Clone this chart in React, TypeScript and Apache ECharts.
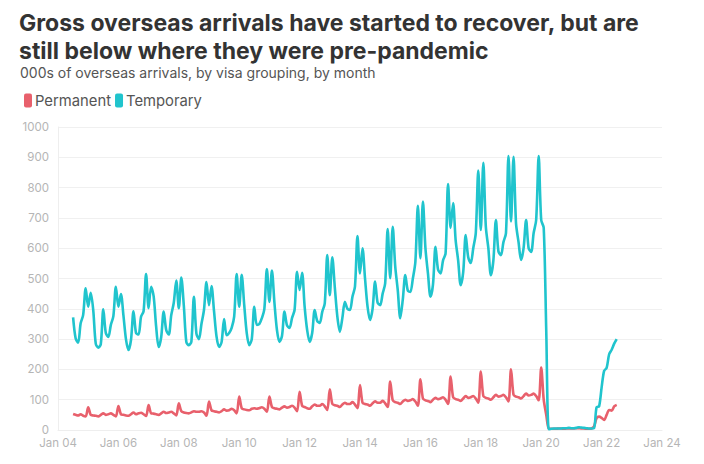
import React, { useEffect, useRef } from "react";
import * as echarts from "echarts";

const START_YEAR = 2004;
const START_MONTH = 7; // July 2004

const permanent: number[] = [
  // 2004 Jul-Dec
  53, 50, 48, 52, 47, 45,
  // 2005
  75, 50, 48, 47, 45, 50, 55, 50, 52, 55, 50, 45,
  // 2006
  79, 52, 50, 48, 47, 52, 58, 52, 55, 57, 52, 46,
  // 2007
  82, 55, 54, 52, 50, 55, 60, 56, 58, 60, 55, 48,
  // 2008
  88, 62, 58, 56, 55, 58, 62, 60, 60, 62, 58, 47,
  // 2009
  94, 65, 62, 60, 58, 62, 68, 64, 65, 70, 65, 55,
  // 2010
  110, 72, 68, 66, 65, 70, 72, 70, 72, 75, 70, 60,
  // 2011
  110, 76, 72, 70, 68, 74, 78, 74, 76, 80, 74, 62,
  // 2012
  126, 80, 76, 72, 70, 78, 84, 80, 80, 86, 78, 66,
  // 2013
  134, 86, 82, 80, 76, 84, 90, 86, 86, 92, 84, 72,
  // 2014
  148, 90, 86, 84, 80, 88, 95, 90, 90, 96, 88, 76,
  // 2015
  160, 98, 92, 90, 86, 94, 100, 96, 98, 102, 94, 80,
  // 2016
  167, 104, 98, 96, 92, 100, 106, 102, 104, 108, 100, 86,
  // 2017
  176, 108, 102, 100, 96, 104, 112, 106, 108, 112, 104, 90,
  // 2018
  193, 112, 106, 104, 100, 108, 116, 110, 112, 116, 108, 94,
  // 2019
  200, 116, 110, 108, 104, 112, 120, 114, 116, 120, 112, 98,
  // 2020
  206, 100, 50, 5, 4, 4, 4, 5, 5, 4, 5, 5,
  // 2021
  5, 5, 6, 6, 5, 5, 4, 4, 5, 12, 39, 44,
  // 2022 Jan-Jul
  40, 33, 50, 66, 64, 78, 83,
];

const temporary: number[] = [
  // 2004 Jul-Dec
  372, 303, 288, 352, 380, 468,
  // 2005
  407, 453, 396, 285, 272, 283, 398, 320, 307, 347, 376, 473,
  // 2006
  407, 449, 378, 300, 264, 297, 392, 320, 315, 374, 392, 515,
  // 2007
  402, 473, 442, 341, 274, 306, 391, 330, 315, 379, 420, 493,
  // 2008
  402, 503, 410, 290, 280, 292, 440, 318, 300, 350, 396, 488,
  // 2009
  412, 475, 392, 308, 274, 290, 366, 313, 320, 337, 374, 515,
  // 2010
  407, 512, 412, 320, 280, 300, 407, 347, 350, 369, 400, 531,
  // 2011
  423, 526, 420, 330, 291, 310, 391, 345, 337, 370, 396, 522,
  // 2012
  462, 519, 407, 330, 291, 320, 396, 360, 353, 390, 418, 577,
  // 2013
  445, 570, 470, 374, 324, 370, 423, 400, 396, 440, 473, 640,
  // 2014
  517, 600, 500, 407, 363, 400, 490, 420, 412, 450, 484, 663,
  // 2015
  501, 671, 540, 462, 369, 430, 511, 460, 456, 500, 555, 740,
  // 2016
  567, 754, 600, 517, 440, 480, 605, 530, 517, 560, 583, 812,
  // 2017
  667, 749, 627, 560, 478, 520, 643, 570, 551, 600, 650, 856,
  // 2018
  660, 882, 671, 600, 511, 560, 693, 590, 577, 620, 650, 904,
  // 2019
  688, 902, 682, 620, 561, 600, 693, 600, 588, 650, 693, 904,
  // 2020
  693, 667, 330, 3, 4, 5, 5, 5, 5, 6, 6, 7,
  // 2021
  6, 6, 7, 9, 8, 7, 6, 5, 5, 6, 75, 78,
  // 2022 Jan-Jul
  140, 195, 205, 250, 265, 285, 300,
];

const yTicks = [0, 100, 200, 300, 400, 500, 600, 700, 800, 900, 1000];
const xTickYears = [2004, 2006, 2008, 2010, 2012, 2014, 2016, 2018, 2020, 2022, 2024];

const TITLE_LINE_1 = "Gross overseas arrivals have started to recover, but are";
const TITLE_LINE_2 = "still below where they were pre-pandemic";
const SUBTITLE = "000s of overseas arrivals, by visa grouping, by month";

const FONT = "Inter, 'Open Sans', sans-serif";
const RED = "#E8606C";
const CYAN = "#20C4CD";

function toPoints(values: number[]): [number, number][] {
  return values.map((v, i) => {
    const m = START_MONTH - 1 + i;
    const yr = START_YEAR + Math.floor(m / 12);
    const mo = m % 12;
    return [yr + mo / 12, v];
  });
}

const titleStyle = {
  fontFamily: FONT,
  fontSize: 23,
  fontWeight: 700,
  color: "#333333",
  lineHeight: 27,
};

export default function App() {
  const ref = useRef<HTMLDivElement>(null);
  useEffect(() => {
    if (!ref.current) return;
    const chart = echarts.init(ref.current, undefined, { renderer: "svg" });
    chart.setOption({
      animation: false,
      backgroundColor: "#ffffff",
      textStyle: { fontFamily: FONT },
      title: [
        { text: TITLE_LINE_1, left: 19, top: 9, padding: 0, textStyle: titleStyle },
        { text: TITLE_LINE_2, left: 19, top: 37, padding: 0, textStyle: titleStyle },
        {
          text: SUBTITLE,
          left: 20,
          top: 65,
          padding: 0,
          textStyle: {
            fontFamily: FONT,
            fontSize: 14,
            fontWeight: 400,
            color: "#555555",
            lineHeight: 15,
          },
        },
      ],
      legend: {
        left: 19,
        top: 88,
        icon: "roundRect",
        itemWidth: 8,
        itemHeight: 14,
        itemGap: 4,
        textStyle: { fontFamily: FONT, fontSize: 14.8, color: "#555555", padding: [0, 0, 0, -2] },
        data: ["Permanent", "Temporary"],
      },
      grid: { left: 58, right: 42, top: 127, bottom: 34, containLabel: false },
      xAxis: {
        type: "value",
        min: xTickYears[0],
        max: xTickYears[xTickYears.length - 1],
        interval: 2,
        axisLine: { show: true, lineStyle: { color: "#eeeeee" } },
        axisTick: { show: false },
        splitLine: { show: false },
        axisLabel: {
          color: "#b5b5b5",
          fontSize: 11.5,
          lineHeight: 12,
          margin: 7,
          formatter: (v: number) => "Jan " + String(v).slice(2),
        },
      },
      yAxis: {
        type: "value",
        min: yTicks[0],
        max: yTicks[yTicks.length - 1],
        interval: 100,
        axisLine: { show: true, lineStyle: { color: "#eeeeee" } },
        axisTick: { show: false },
        splitLine: { show: true, lineStyle: { color: "#f0f0f0" } },
        axisLabel: {
          color: "#b5b5b5",
          fontSize: 11.5,
          lineHeight: 12,
          margin: 9,
          formatter: (v: number) => String(v),
        },
      },
      series: [
        {
          name: "Permanent",
          type: "line",
          data: toPoints(permanent),
          showSymbol: false,
          smooth: 0.3,
          lineStyle: { color: RED, width: 2.6 },
          itemStyle: { color: RED },
        },
        {
          name: "Temporary",
          type: "line",
          data: toPoints(temporary),
          showSymbol: false,
          smooth: 0.3,
          lineStyle: { color: CYAN, width: 2.6 },
          itemStyle: { color: CYAN },
        },
      ],
    });
    return () => chart.dispose();
  }, []);
  return (
    <div
      ref={ref}
      style={{ position: "fixed", left: 0, top: 0, width: 704, height: 464 }}
    />
  );
}
